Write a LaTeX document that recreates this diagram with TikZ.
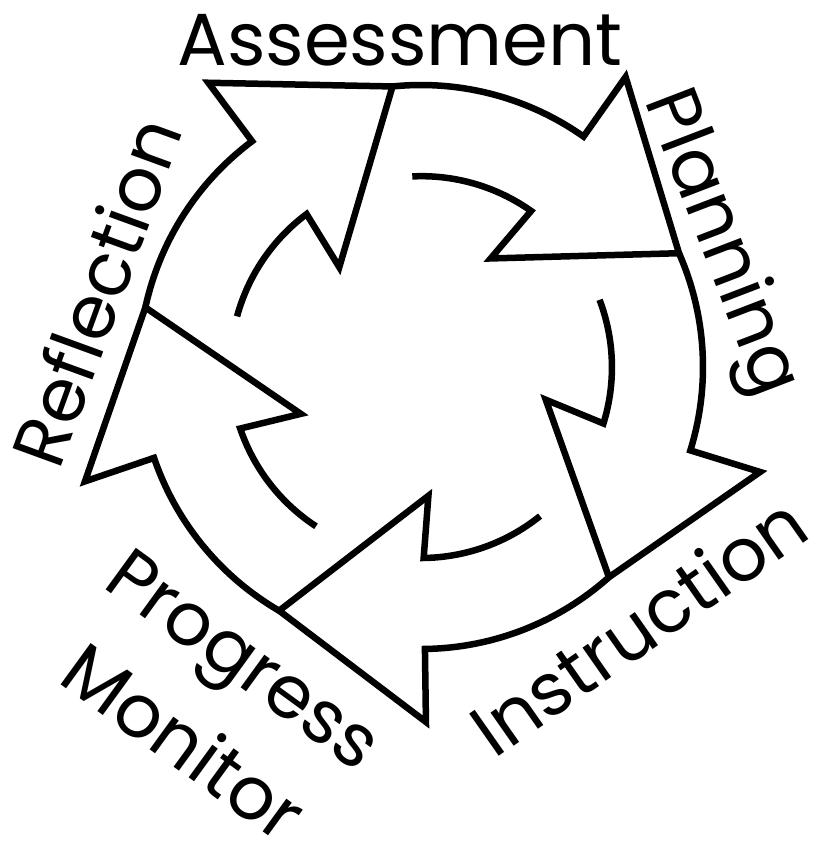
\documentclass[tikz,border=0pt]{standalone}
\usepackage{fontspec}
\setmainfont{Poppins}
\usepackage{tikz}

\begin{document}
\begin{tikzpicture}[x=0.02cm,y=0.02cm,
  cyclearrow/.style={draw=black,line width=3.7pt,line join=miter},
  cyclelabel/.style={font=\fontsize{42}{59}\selectfont,inner sep=0pt}]
\useasboundingbox (-421,-483) rectangle (394,367);

%Arrow 1 (top)
\draw[cyclearrow] (95.8:282) arc[start angle=95.8, end angle=54.8, radius=282] -- (54.8:355) -- (23.8:282) -- (57.3:129) -- (54.8:191) arc[start angle=54.8, end angle=92.8, radius=190];

%Arrow 2 (right)
\draw[cyclearrow] (23.8:282) arc[start angle=23.8, end angle=-17.2, radius=282] -- (-17.2:355) -- (-48.2:282) -- (-14.7:129) -- (-17.2:191) arc[start angle=-17.2, end angle=20.8, radius=190];

%Arrow 3 (bottom)
\draw[cyclearrow] (-48.2:282) arc[start angle=-48.2, end angle=-89.2, radius=282] -- (-89.2:355) -- (-120.2:282) -- (-86.7:129) -- (-89.2:191) arc[start angle=-89.2, end angle=-51.2, radius=190];

%Arrow 4 (lower left)
\draw[cyclearrow] (-120.2:282) arc[start angle=-120.2, end angle=-161.2, radius=282] -- (-161.2:355) -- (-192.2:282) -- (-158.7:129) -- (-161.2:191) arc[start angle=-161.2, end angle=-123.2, radius=190];

%Arrow 5 (upper left)
\draw[cyclearrow] (167.8:282) arc[start angle=167.8, end angle=126.8, radius=282] -- (126.8:355) -- (95.8:282) -- (129.3:129) -- (126.8:191) arc[start angle=126.8, end angle=164.8, radius=190];

%Stage names
\node[cyclelabel,anchor=base] (assessment) at (-21,302) {Assessment};
\node[cyclelabel,anchor=base,rotate=-69] (planning) at (281,117) {Planning};
\node[cyclelabel,anchor=base,rotate=35] (instruction) at (233,-281) {Instruction};
\node[cyclelabel,align=center,rotate=-36] (progress) at (-207,-334) {Progress\\Monitor};
\node[cyclelabel,anchor=base,rotate=70] (reflection) at (-299,66) {Reflection};
\end{tikzpicture}
\end{document}
